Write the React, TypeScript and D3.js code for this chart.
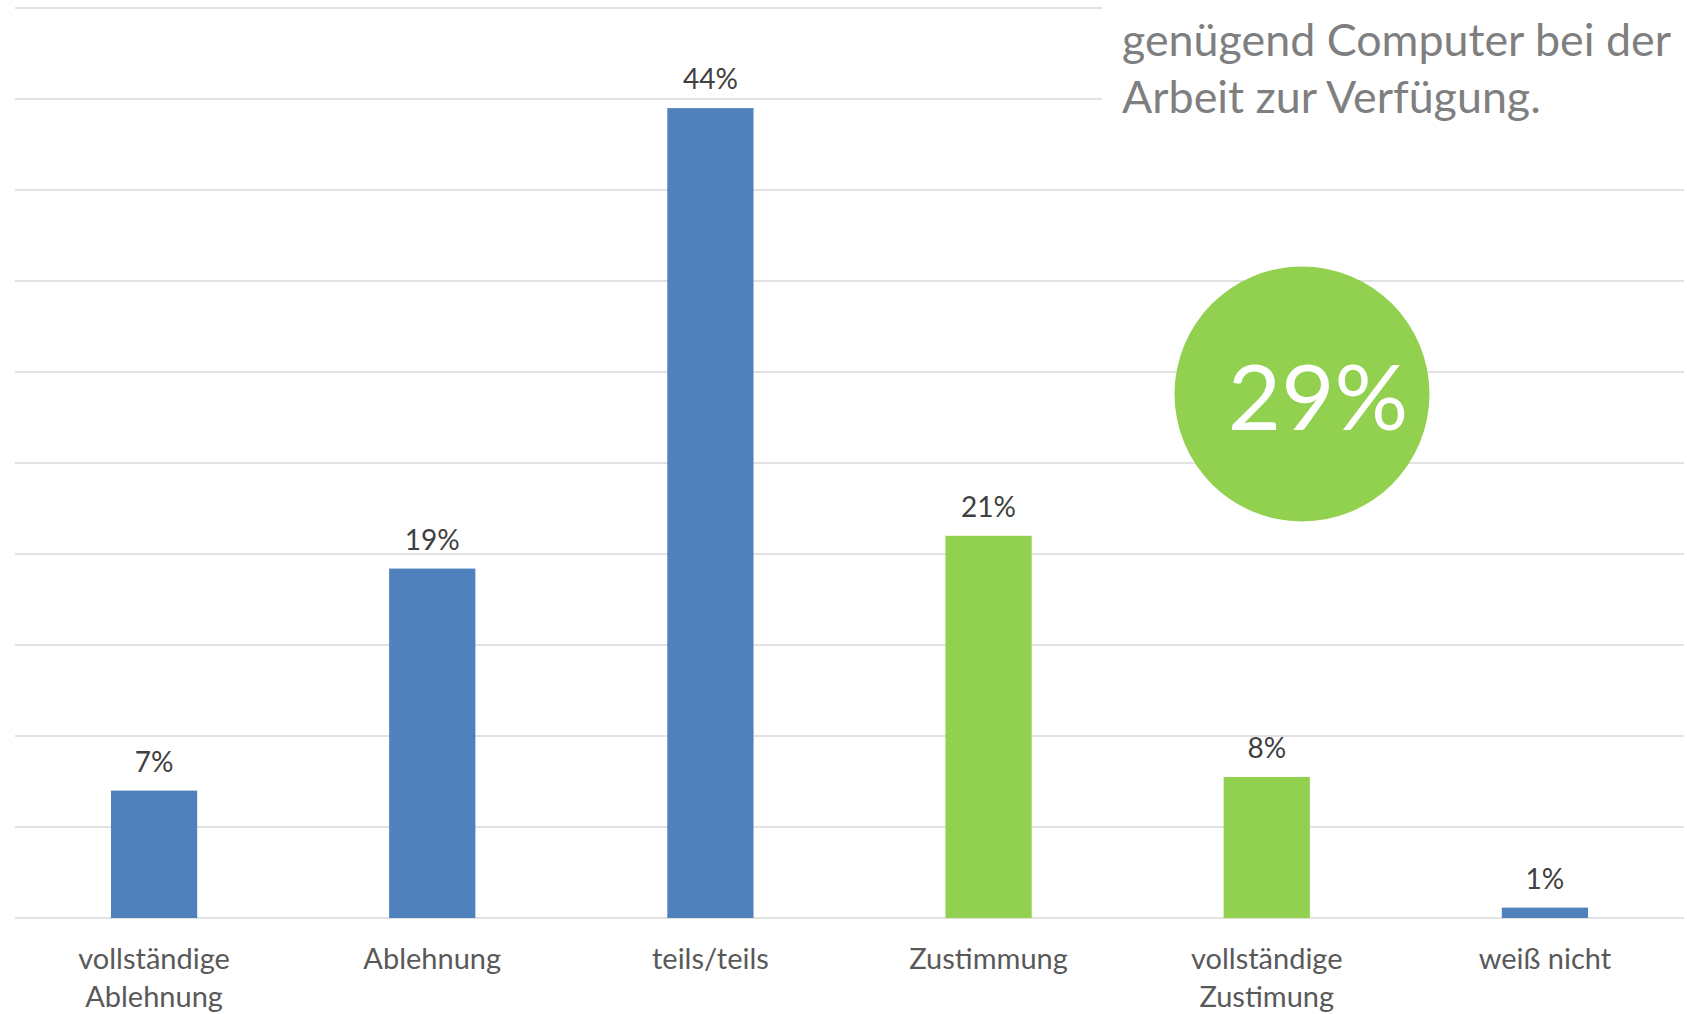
import React from 'react';
import * as d3 from 'd3';

// Antworten zur Aussage "... genügend Computer bei der Arbeit zur Verfügung."
const categories = [
  'vollständige Ablehnung',
  'Ablehnung',
  'teils/teils',
  'Zustimmung',
  'vollständige Zustimung',
  'weiß nicht',
];
const categoryLines = [
  ['vollständige', 'Ablehnung'],
  ['Ablehnung'],
  ['teils/teils'],
  ['Zustimmung'],
  ['vollständige', 'Zustimung'],
  ['weiß nicht'],
];
const shares = [7.0, 19.2, 44.5, 21.0, 7.75, 0.57];
const shareLabels = ['7%', '19%', '44%', '21%', '8%', '1%'];
const barColors = ['#4f81bd', '#4f81bd', '#4f81bd', '#92d050', '#92d050', '#4f81bd'];
const gridTicks = [0, 5, 10, 15, 20, 25, 30, 35, 40, 45, 50];
const titleLines = ['genügend Computer bei der', 'Arbeit zur Verfügung.'];
const agreeTotal = '29%';

const W = 1687;
const H = 1014;
const font = 'Lato, "Open Sans", sans-serif';

function App() {
  const x = d3.scaleBand<string>()
    .domain(categories)
    .range([15, 1684])
    .paddingInner(0.69)
    .paddingOuter(0.345);
  const y = d3.scaleLinear().domain([0, 50]).range([918, 8]);

  return (
    <svg width={W} height={H} style={{ position: 'absolute', left: 0, top: 0 }}
         fontFamily={font}>
      <rect width={W} height={H} fill='#ffffff' />
      {gridTicks.map(t => (
        <line key={t} x1={15} x2={1684} y1={y(t)} y2={y(t)}
              stroke='#d9d9d9' strokeWidth={1.5} />
      ))}
      {/* white title box hides the upper grid lines on the right */}
      <rect x={1102} y={0} width={W - 1102} height={160} fill='#ffffff' />
      {titleLines.map((l, i) => (
        <text key={l} x={1122} y={56 + i * 57} fontSize={44.8} fill='#7f7f7f'>{l}</text>
      ))}
      {shares.map((v, i) => {
        const c = categories[i];
        const cx = x(c)! + x.bandwidth() / 2;
        return (
          <g key={c}>
            <rect x={x(c)} y={y(v)} width={x.bandwidth()} height={y(0) - y(v)}
                  fill={barColors[i]} />
            <text x={cx} y={y(v) - 19} textAnchor='middle' fontSize={28}
                  fill='#404040'>{shareLabels[i]}</text>
            {categoryLines[i].map((l, j) => (
              <text key={l} x={cx} y={969 + j * 38} textAnchor='middle'
                    fontSize={29} fill='#595959'>{l}</text>
            ))}
          </g>
        );
      })}
      <circle cx={1302} cy={394} r={127.5} fill='#92d050' />
      <text x={1318} y={430} textAnchor='middle' fontSize={92} fill='#ffffff'>
        {agreeTotal}
      </text>
    </svg>
  );
}

export default App;
